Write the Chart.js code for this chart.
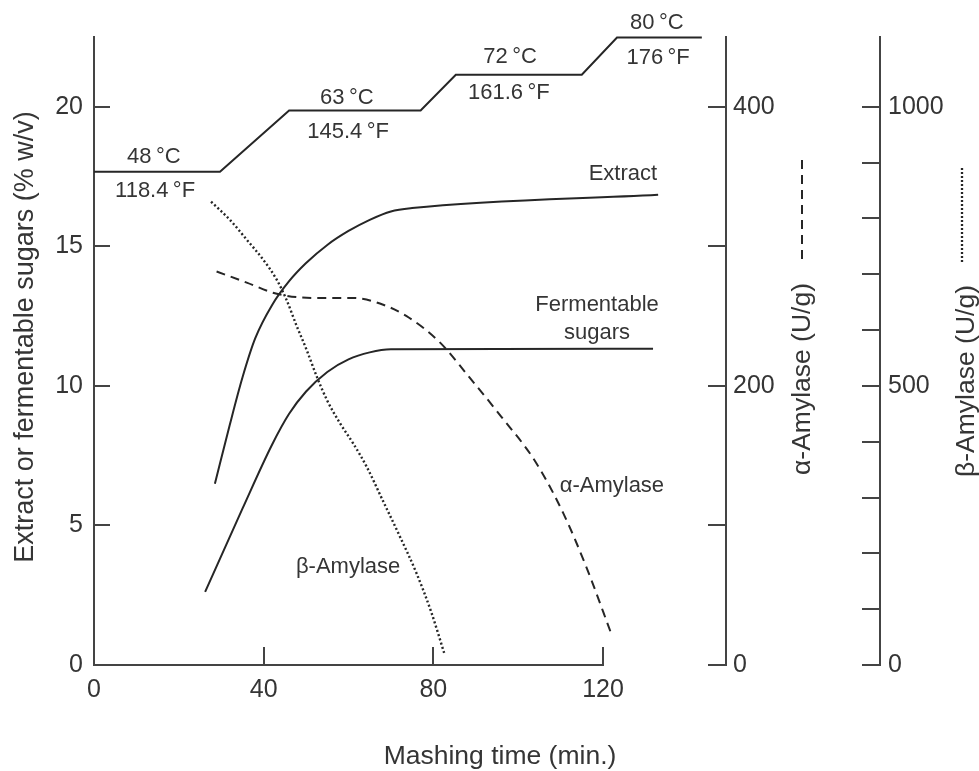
<!DOCTYPE html>
<html>
<head>
<meta charset="utf-8">
<script src="https://cdn.jsdelivr.net/npm/chart.js@4.4.1/dist/chart.umd.min.js"></script>
<style>
  html, body { margin: 0; padding: 0; background: #fff; }
</style>
</head>
<body>
<canvas id="chart" width="979" height="771"></canvas>
<script>
// temperature programme, drawn on the left scale
var tempTime  = [0, 29.7, 46.0, 77.0, 85.3, 115.0, 123.3, 143.3];
var tempLevel = [17.67, 17.67, 19.87, 19.87, 21.15, 21.15, 22.48, 22.48];

// extract and fermentable sugars (% w/v)
var extractTime  = [28.5, 32, 35, 38, 42, 46, 50, 55, 60, 65, 70, 75, 133];
var extractValue = [6.49, 8.6, 10.3, 11.7, 12.9, 13.75, 14.4, 15.05, 15.55, 15.95, 16.25, 16.37, 16.85];
var sugarsTime   = [26.2, 35, 42, 46, 50, 55, 60, 65, 70, 131.8];
var sugarsValue  = [2.62, 5.6, 7.9, 9.0, 9.8, 10.5, 10.95, 11.2, 11.31, 11.33];

// enzymes (U/g)
var alphaTime  = [28.9, 36, 43.1, 51.7, 61.1, 67.4, 73.7, 81.6, 88, 96, 104, 110.6, 116.1, 122];
var alphaValue = [282, 274, 266, 263, 263, 259, 250, 231, 208, 178, 146, 109, 70, 22];
var betaTime   = [27.6, 32.1, 36, 39.9, 43.1, 45.4, 47.8, 50.1, 52.5, 54.9, 58, 61.1, 64.3, 68, 72, 76, 79.5, 82.7];
var betaValue  = [830, 797, 762, 726, 690, 654, 607, 565, 517, 475, 433, 397, 355, 296, 232, 165, 95, 18];

// ticks
var xTicks      = [0, 40, 80, 120];
var leftTicks   = [0, 5, 10, 15, 20];
var alphaTicks  = [0, 100, 200, 300, 400];
var alphaLabels = [0, 200, 400];
var betaTicks   = [0, 100, 200, 300, 400, 500, 600, 700, 800, 900, 1000];
var betaLabels  = [0, 500, 1000];

// text placed in the plot (data coordinates)
var notes = [
  { text: '48\u2009°C', x: 14.1, y: 18.2 },
  { text: '118.4\u2009°F', x: 14.4, y: 17.0 },
  { text: '63\u2009°C', x: 59.6, y: 20.3 },
  { text: '145.4\u2009°F', x: 59.9, y: 19.1 },
  { text: '72\u2009°C', x: 98.1, y: 21.8 },
  { text: '161.6\u2009°F', x: 97.8, y: 20.5 },
  { text: '80\u2009°C', x: 132.7, y: 23.0 },
  { text: '176\u2009°F', x: 133.0, y: 21.75 },
  { text: 'Extract', x: 124.7, y: 17.6 },
  { text: 'Fermentable', x: 118.6, y: 12.9 },
  { text: 'sugars', x: 118.6, y: 11.9 },
  { text: 'α-Amylase', x: 122.1, y: 6.4 },
  { text: 'β-Amylase', x: 59.9, y: 3.5 }
];

var FONT = '"Liberation Sans", Arial, sans-serif';
var INK = '#262626';
var TEXT = '#353535';

function pts(xs, ys) {
  return xs.map(function (x, i) { return { x: x, y: ys[i] }; });
}
function fixTicks(list) {
  return function (scale) { scale.ticks = list.map(function (v) { return { value: v }; }); };
}
// fixed axis width, and no extra room above/below for the tick labels
function fitWidth(w) {
  return function (scale) { scale.width = w; scale.paddingTop = 0; scale.paddingBottom = 0; };
}

var extras = {
  id: 'extras',
  afterDraw: function (chart) {
    var c = chart.ctx, a = chart.chartArea, sx = chart.scales.x, sy = chart.scales.y;
    c.save();
    // x axis line only up to 120 min
    c.strokeStyle = '#444';
    c.lineWidth = 2;
    c.beginPath();
    c.moveTo(sx.getPixelForValue(0) - 1, a.bottom);
    c.lineTo(sx.getPixelForValue(120) + 1, a.bottom);
    c.stroke();

    // labels inside the plot
    c.fillStyle = TEXT;
    c.font = '22px ' + FONT;
    c.textAlign = 'center';
    c.textBaseline = 'middle';
    notes.forEach(function (n) {
      c.fillText(n.text, sx.getPixelForValue(n.x), sy.getPixelForValue(n.y));
    });

    // axis titles
    c.font = '26.5px ' + FONT;
    c.fillText('Mashing time (min.)', 500, 757);
    function vtext(t, x, y, size) {
      c.save();
      c.font = size + 'px ' + FONT;
      c.translate(x, y);
      c.rotate(-Math.PI / 2);
      c.fillText(t, 0, 0);
      c.restore();
    }
    vtext('Extract or fermentable sugars (% w/v)', 26, 337, 27);
    vtext('α-Amylase (U/g)', 803, 379, 26.5);
    vtext('β-Amylase (U/g)', 967, 381, 26.5);

    // line samples above the enzyme titles
    c.strokeStyle = INK;
    c.lineWidth = 2;
    c.setLineDash([9, 6]);
    c.beginPath(); c.moveTo(802, 160); c.lineTo(802, 259); c.stroke();
    c.lineWidth = 2.3;
    c.setLineDash([2, 2]);
    c.beginPath(); c.moveTo(962, 168); c.lineTo(962, 263); c.stroke();
    c.restore();
  }
};

var lineBase = { pointRadius: 0, borderWidth: 2, borderColor: INK, fill: false, clip: false };

new Chart(document.getElementById('chart').getContext('2d'), {
  type: 'line',
  data: {
    datasets: [
      Object.assign({ label: 'Temperature', data: pts(tempTime, tempLevel), yAxisID: 'y', tension: 0 }, lineBase),
      Object.assign({ label: 'Extract', data: pts(extractTime, extractValue), yAxisID: 'y', cubicInterpolationMode: 'monotone' }, lineBase),
      Object.assign({ label: 'Fermentable sugars', data: pts(sugarsTime, sugarsValue), yAxisID: 'y', cubicInterpolationMode: 'monotone' }, lineBase),
      Object.assign({ label: 'α-Amylase', data: pts(alphaTime, alphaValue), yAxisID: 'yA', cubicInterpolationMode: 'monotone', borderDash: [9, 6] }, lineBase),
      Object.assign({ label: 'β-Amylase', data: pts(betaTime, betaValue), yAxisID: 'yB', cubicInterpolationMode: 'monotone' }, lineBase, { borderDash: [2, 2.4], borderWidth: 2.4 })
    ]
  },
  options: {
    responsive: false,
    animation: false,
    events: [],
    layout: { padding: { top: 37, left: 0, right: 0, bottom: 0 } },
    plugins: { legend: { display: false }, tooltip: { enabled: false } },
    scales: {
      x: {
        type: 'linear', position: 'bottom', min: 0, max: 149,
        afterBuildTicks: fixTicks(xTicks),
        afterFit: function (s) { s.height = 106; s.paddingLeft = 0; s.paddingRight = 0; },
        border: { display: false },
        grid: { drawOnChartArea: false, tickLength: -18, color: '#444', lineWidth: 2 },
        ticks: { padding: 28, color: TEXT, font: { size: 25, family: FONT }, maxRotation: 0, autoSkip: false }
      },
      y: {
        position: 'left', min: 0, max: 22.5,
        afterBuildTicks: fixTicks(leftTicks),
        afterFit: fitWidth(94),
        border: { display: true, color: '#444', width: 2 },
        grid: { drawOnChartArea: false, tickLength: -16, color: '#444', lineWidth: 2 },
        ticks: { padding: 27, color: TEXT, font: { size: 25, family: FONT }, autoSkip: false }
      },
      yA: {
        position: 'right', min: 0, max: 450,
        afterBuildTicks: fixTicks(alphaTicks),
        afterFit: fitWidth(154),
        border: { display: true, color: '#444', width: 2 },
        grid: { drawOnChartArea: false, tickLength: -18, color: '#444', lineWidth: 2 },
        ticks: {
          padding: 25, color: TEXT, font: { size: 25, family: FONT }, autoSkip: false,
          callback: function (v) { return alphaLabels.indexOf(v) >= 0 ? String(v) : ''; }
        }
      },
      yB: {
        position: 'right', min: 0, max: 1125,
        afterBuildTicks: fixTicks(betaTicks),
        afterFit: fitWidth(99),
        border: { display: true, color: '#444', width: 2 },
        grid: { drawOnChartArea: false, tickLength: -18, color: '#444', lineWidth: 2 },
        ticks: {
          padding: 26, color: TEXT, font: { size: 25, family: FONT }, autoSkip: false,
          callback: function (v) { return betaLabels.indexOf(v) >= 0 ? String(v) : ''; }
        }
      }
    }
  },
  plugins: [extras]
});
</script>
</body>
</html>
